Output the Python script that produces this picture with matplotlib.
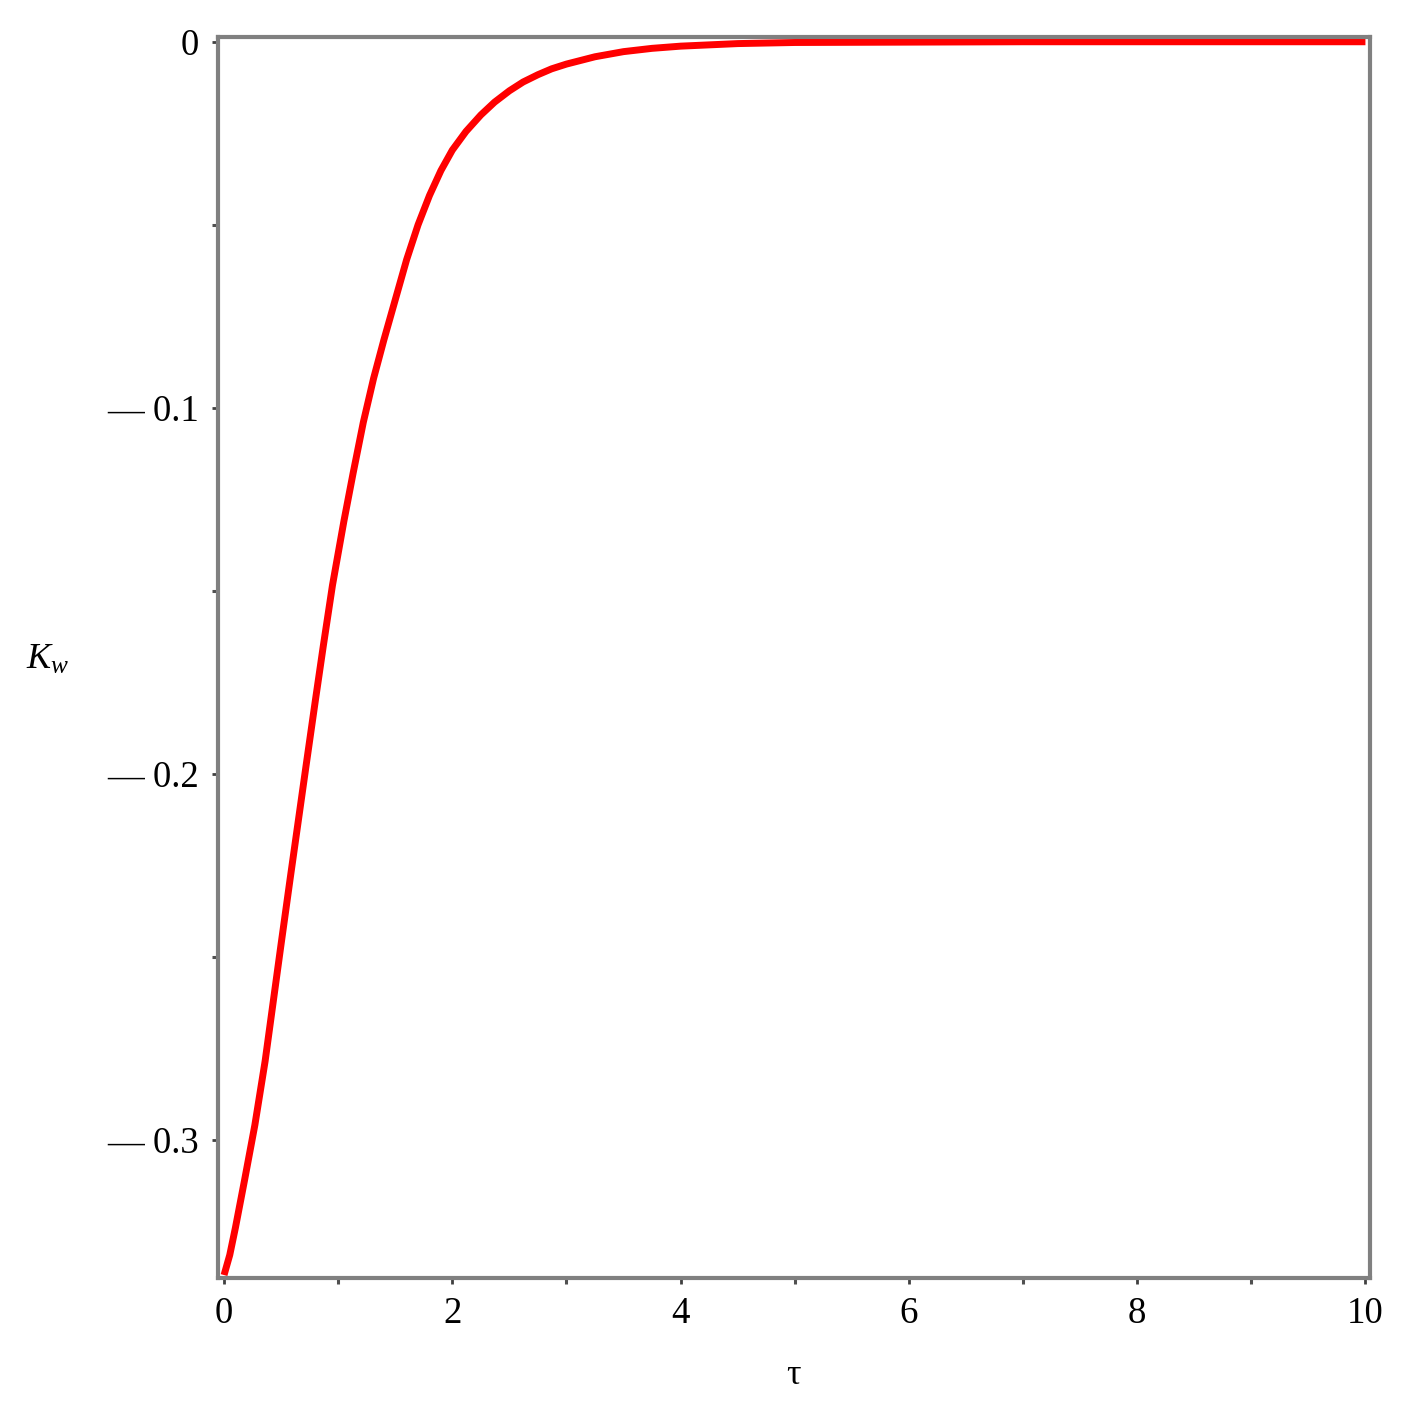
import matplotlib
matplotlib.use("Agg")
import matplotlib.pyplot as plt

# values
tau = [0.00, 0.05, 0.10, 0.18, 0.27, 0.36, 0.43, 0.50, 0.58, 0.65,
       0.72, 0.80, 0.87, 0.95, 1.05, 1.13, 1.22, 1.31, 1.40, 1.50,
       1.60, 1.70, 1.80, 1.90, 2.00, 2.12, 2.25, 2.37, 2.50, 2.62,
       2.75, 2.87, 3.00, 3.25, 3.50, 3.75, 4.00, 4.50, 5.00, 6.00,
       7.00, 8.00, 9.00, 10.00]
K_w = [-0.3370, -0.3315, -0.3240, -0.3110, -0.2960, -0.2785, -0.2625, -0.2465,
       -0.2285, -0.2130, -0.1975, -0.1800, -0.1650, -0.1485, -0.1310, -0.1180,
       -0.1040, -0.0920, -0.0815, -0.0705, -0.0595, -0.0500, -0.0420, -0.0352,
       -0.0296, -0.0245, -0.0200, -0.0165, -0.0134, -0.0110, -0.0090, -0.0074,
       -0.0061, -0.0041, -0.0027, -0.0018, -0.0012, -0.0005, -0.0002, -0.0001,
       0.0, 0.0, 0.0, 0.0]

x_ticks = [0, 2, 4, 6, 8, 10]
x_minor = [1, 3, 5, 7, 9]
y_ticks = [0, -0.1, -0.2, -0.3]
y_minor = [-0.05, -0.15, -0.25]
# Maple draws the minus as a long dash followed by a space
y_labels = ["0", "\u2014 0.1", "\u2014 0.2", "\u2014 0.3"]

plt.rcParams['font.family'] = ['Liberation Serif', 'DejaVu Serif']
plt.rcParams['mathtext.fontset'] = 'custom'
plt.rcParams['mathtext.rm'] = 'Liberation Serif'
plt.rcParams['mathtext.it'] = 'Liberation Serif:italic'

fig = plt.figure(figsize=(14.09, 14.17), dpi=100)
ax = fig.add_axes([218/1409, 1 - 1278/1417, (1370-218)/1409, (1278-37)/1417])

ax.plot(tau, K_w, color='#ff0000', linewidth=5, solid_capstyle='butt',
        solid_joinstyle='round')

ax.set_xlim(-0.053, 10.04)
ax.set_ylim(-0.3378, 0.0013)

for s in ax.spines.values():
    s.set_color('#808080')
    s.set_linewidth(3)

ax.set_xticks(x_ticks)
ax.set_xticklabels([str(t) for t in x_ticks])
ax.set_xticks(x_minor, minor=True)
ax.set_yticks(y_ticks)
ax.set_yticklabels(y_labels)
ax.set_yticks(y_minor, minor=True)

ax.tick_params(which='major', direction='out', length=4.5, width=2,
               color='#404040', labelsize=26.5, pad=9)
ax.tick_params(which='minor', direction='out', length=4, width=2.2,
               color='#505050')

fig.text(48/1409, 1 - 660/1417, r"$K_w$", fontsize=26, ha='center', va='center')
fig.text(793/1409, 1 - 1375/1417, "\u03c4", fontsize=26, ha='center', va='center')

fig.savefig("out.png", dpi=100)
